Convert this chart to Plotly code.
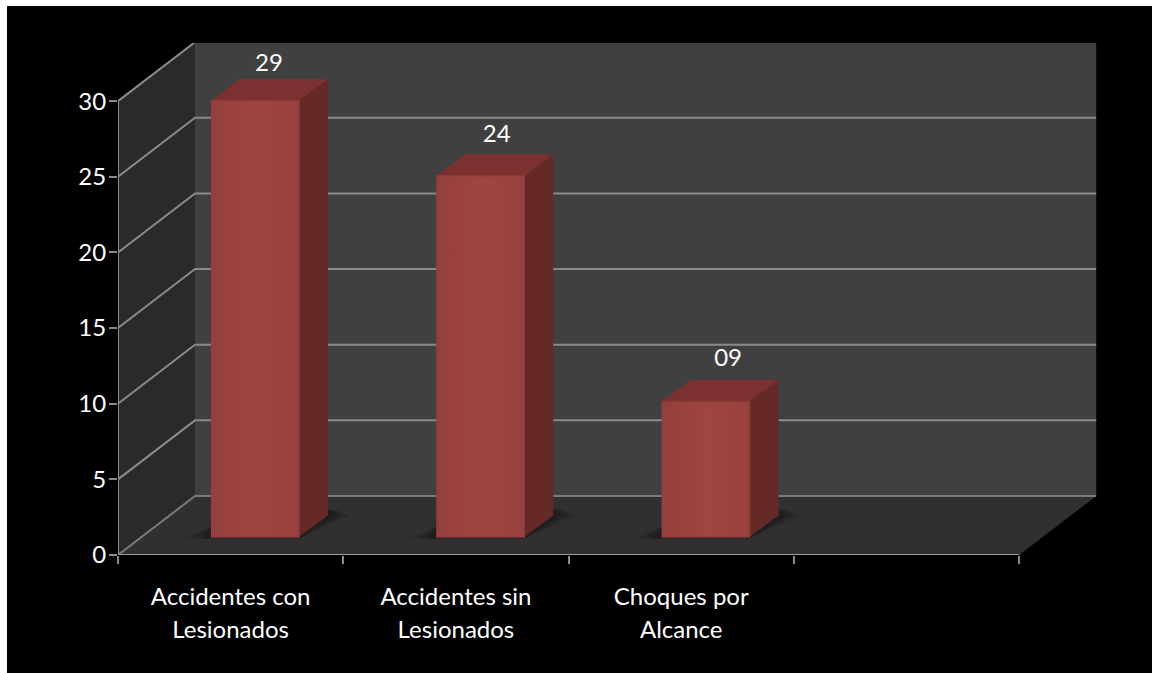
import plotly.graph_objects as go

# ---- data ----
line1 = ["Accidentes con", "Accidentes sin", "Choques por"]
line2 = ["Lesionados", "Lesionados", "Alcance"]
values = [29, 24, 9]
value_labels = ["29", "24", "09"]
label_shift_x = [0.062, 0.073, 0.100]
label_gap_y = [0.75, 1.1, 1.3]
y_ticks = [0, 5, 10, 15, 20, 25, 30]
x_edges = [0, 1, 2, 3, 4]

# ---- pixel geometry of the frame ----
W, H = 1152, 673
L, R, T, B = 118, 1097, 43, 555
PX = 225.3   # pixels per category
PY = 15.13   # pixels per value unit
XMAX = (R - L) / PX
YMAX = (B - T) / PY
DX, DY = 77 / PX, 59 / PY          # depth of the box
FX, FY = 23.5 / PX, 18 / PY        # bar front offset in the box
BX, BY = 29 / PX, 21.5 / PY        # depth of each bar
BAR_C, BAR_W = 0.608, 88 / PX
PERSPECTIVE = 0.995                # bars sit nearer the viewer than the back wall

GRID = "#8a8a8a"
TXT = "#ffffff"
FONT = "Lato"
FS = 24

fig = go.Figure()


def poly(xs, ys, color, opacity=1.0, edge=None, gradient=None):
    t = dict(x=xs, y=ys, mode="lines", fill="toself", opacity=opacity,
             line=dict(width=1.5 if edge else 0, color=edge or color),
             hoverinfo="skip", showlegend=False)
    if gradient:
        t["fillgradient"] = gradient
    else:
        t["fillcolor"] = color
    fig.add_trace(go.Scatter(**t))


def line(xs, ys, color=GRID, width=2):
    fig.add_trace(go.Scatter(x=xs, y=ys, mode="lines", line=dict(color=color, width=width),
                             hoverinfo="skip", showlegend=False))


top = y_ticks[-1]
xe = x_edges[-1]
# walls and floor
poly([0, DX, DX, 0], [0, DY, top + DY, top], "#2a2a2a")
poly([DX, xe + DX, xe + DX, DX], [DY, DY, top + DY, top + DY], "#404040")
poly([0, xe, xe + DX, DX], [0, 0, DY, DY], "#303030")

# grid lines
for v in y_ticks:
    line([0, DX, xe + DX], [v, v + DY, v + DY], GRID if v else "#7a7a7a")
line([0, 0], [0, top])
line([0, xe], [0, 0], "#9a9a9a")

# floor shadows, side, top and front faces
front_grad = dict(type="horizontal",
                  colorscale=[[0, "#943f3c"], [0.5, "#9f4542"], [1, "#97413e"]])
for i, v in enumerate(values):
    c = i + BAR_C
    x0, x1 = c - BAR_W / 2, c + BAR_W / 2
    h = v * PERSPECTIVE
    for grow, op in [(0.12, 0.15), (0.08, 0.22), (0.04, 0.3)]:
        poly([x0 - grow, x1, x1 + BX + grow * 0.8, x1 + BX + grow * 0.3, x0],
             [FY - 0.1, FY - 0.1, FY + BY, FY + BY + 0.4, FY + 0.7], "#101010", op)
    poly([x1, x1 + BX, x1 + BX, x1], [FY, FY + BY, FY + h + BY, FY + h], "#652a28")
    poly([x0, x0 + BX, x1 + BX, x1], [FY + h, FY + h + BY, FY + h + BY, FY + h], "#7a312f")
    poly([x0, x1, x1, x0], [FY, FY, FY + h, FY + h], "#9c4340", edge="#8e3c39", gradient=front_grad)

# value labels
fig.add_trace(go.Scatter(
    x=[i + BAR_C + s for i, s in enumerate(label_shift_x)],
    y=[v + FY + BY + g for v, g in zip(values, label_gap_y)],
    text=value_labels, mode="text", textposition="middle center",
    textfont=dict(family=FONT, size=FS, color=TXT), hoverinfo="skip", showlegend=False))

cat_pos = [i + 0.5 for i in range(len(line1))]
# invisible trace so the overlaid axis (second line of labels) is drawn
fig.add_trace(go.Scatter(x=cat_pos, y=[0, 0, 0], xaxis="x2", mode="lines", line=dict(width=0),
                         hoverinfo="skip", showlegend=False))

fig.update_layout(
    width=W, height=H,
    margin=dict(l=L, r=W - R, t=T, b=H - B, pad=0),
    paper_bgcolor="#ffffff", plot_bgcolor="rgba(0,0,0,0)",
    showlegend=False,
    xaxis=dict(range=[0, XMAX], tickmode="array", tickvals=cat_pos, ticktext=line1,
               ticks="outside", ticklen=0, showgrid=False, zeroline=False, showline=False,
               tickangle=0, ticklabelstandoff=20, automargin=False,
               tickfont=dict(family=FONT, size=FS, color=TXT),
               minor=dict(tickmode="array", tickvals=x_edges, ticks="outside", ticklen=8,
                          tickwidth=2, tickcolor=GRID, showgrid=False)),
    xaxis2=dict(range=[0, XMAX], overlaying="x", anchor="y", side="bottom", tickmode="array",
                tickvals=cat_pos, ticktext=line2, ticks="", showgrid=False, zeroline=False,
                showline=False, tickangle=0, ticklabelstandoff=58,
                tickfont=dict(family=FONT, size=FS, color=TXT)),
    yaxis=dict(range=[0, YMAX], tickmode="array", tickvals=y_ticks, ticks="outside", ticklen=8,
               tickwidth=2, tickcolor=GRID, showgrid=False, zeroline=False, showline=False,
               automargin=False, ticklabelstandoff=-2,
               tickfont=dict(family=FONT, size=FS, color=TXT)),
    shapes=[dict(type="rect", xref="paper", yref="paper", layer="below", line=dict(width=0),
                 fillcolor="#000000",
                 x0=(7 - L) / (R - L), x1=(W - L) / (R - L),
                 y0=(B - H) / (B - T), y1=(B - 6) / (B - T))],
)

fig.write_html("out.html", config=dict(displayModeBar=False),
               post_script="document.body.style.margin='0';document.documentElement.style.overflow='hidden';")
